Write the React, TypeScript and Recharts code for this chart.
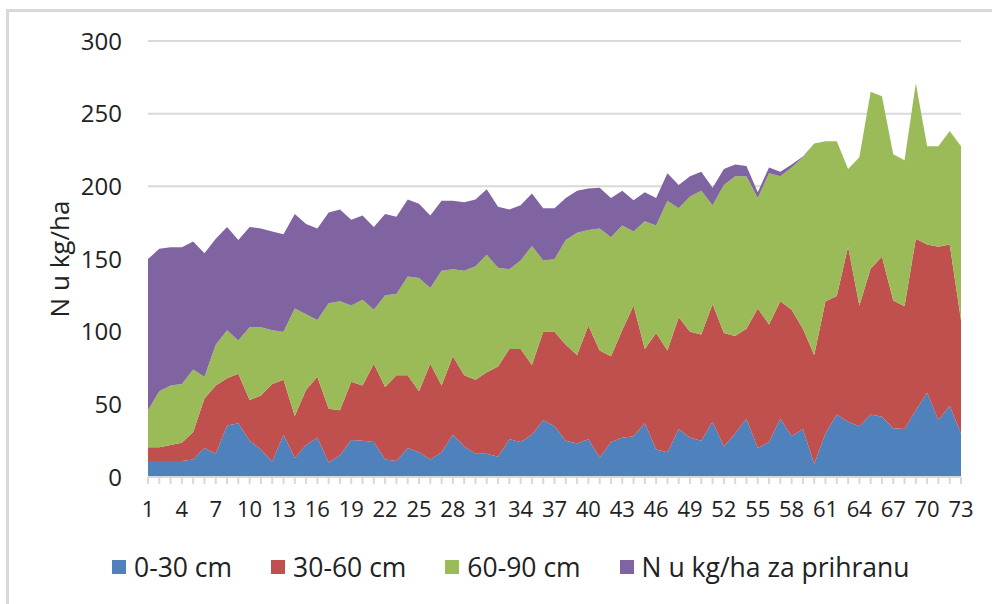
import React from 'react';
import { AreaChart, Area, XAxis, YAxis, CartesianGrid, Legend } from 'recharts';

const FONT = "'Open Sans', 'Liberation Sans', sans-serif";
const TEXT = '#222222';
const GRID = '#d9d9d9';

// Sample numbers 1..73 along the horizontal axis
const categories: string[] = Array.from({ length: 73 }, (_, i) => String(i + 1));

// Mineral N (kg/ha) by soil layer, and N still needed for top-dressing
const layer0to30 = [
  11, 11, 11, 11, 12, 20, 16, 35.5, 37, 25,
  19, 10.5, 29, 13, 22, 27, 10, 15, 25.5, 25,
  24, 12, 11, 20, 17, 12, 17, 29, 21, 16,
  16, 14, 26, 24, 29, 39, 35, 25, 23, 26,
  13.5, 24, 27, 28, 37, 19, 17, 33, 27, 25,
  38, 21, 30, 40, 20, 24, 40, 28, 33, 9,
  30, 43, 38, 35, 43, 41.5, 33.5, 33, 46, 58,
  39, 49, 30,
];
const layer30to60 = [
  9.4, 9.4, 11, 12.6, 19, 34, 47, 32.5, 34, 28,
  37, 53.5, 38, 29, 38, 42, 37, 31, 40, 38,
  54, 50, 59, 50, 42, 66, 46, 54, 49, 51,
  56, 62, 62, 64, 48, 61, 65, 66, 61, 78,
  73.5, 59, 74, 90, 51, 80, 70, 77, 73, 73,
  81, 78, 67, 62, 96, 81, 81, 87, 69, 75,
  91, 81.5, 120.5, 83, 100.5, 110, 88, 84.5, 118, 102,
  119.5, 111, 78,
];
const layer60to90 = [
  25.6, 38.6, 41, 40.4, 43, 15, 28, 33, 23, 50,
  47, 37, 33, 74, 52, 39, 72.5, 75, 52.5, 59,
  37, 63, 56, 68, 78, 52, 79, 60, 72, 78,
  81, 68, 55, 61, 82, 49, 50, 72, 84, 66,
  84, 82, 72, 51, 88, 74, 103, 75, 93, 99,
  68, 102, 110, 105, 76, 104, 86, 98, 118, 145.5,
  110, 106.5, 53.5, 102, 121.5, 110.5, 100.5, 100.5, 107, 67.5,
  69, 78, 119.5,
];
const topDressing = [
  104, 98, 95, 94, 88, 85, 73, 71, 69, 69,
  68, 68, 67, 65, 62, 63, 62.5, 63, 59, 58,
  57, 56, 53, 53, 51, 50, 48, 47, 47, 46,
  45, 42, 41, 38, 36, 36, 35, 29, 29, 28.5,
  28, 27, 24, 21.5, 20, 19, 19, 16, 14, 13,
  12, 11, 8, 7, 4, 4, 3, 2, 0.5, 0,
  0, 0, 0, 0, 0, 0, 0, 0, 0, 0,
  0, 0, 0,
];

const seriesKeys = ['l0', 'l1', 'l2', 'l3'];
const seriesNames = ['0-30 cm', '30-60 cm', '60-90 cm', 'N u kg/ha za prihranu'];
const seriesColors = ['#4F81BD', '#C0504D', '#9BBB59', '#8064A2'];
const yTicks = [0, 50, 100, 150, 200, 250, 300];
const yTitle = 'N u kg/ha';

const data = categories.map((c, i) => ({
  cat: c,
  l0: layer0to30[i],
  l1: layer30to60[i],
  l2: layer60to90[i],
  l3: topDressing[i],
}));

// Tick marks at every sample, numbers on every third one
const XTick = (props: any) => {
  const { x, y, payload } = props;
  const n = Number(payload.value);
  if ((n - 1) % 3 !== 0) return <g />;
  return (
    <text x={x} y={y + 31} textAnchor="middle" fontSize={22} fontFamily={FONT} fill={TEXT}>
      {payload.value}
    </text>
  );
};

const YTitle = (props: any) => {
  const { viewBox } = props;
  const cx = 59;
  const cy = viewBox.y + viewBox.height / 2;
  return (
    <text
      x={cx}
      y={cy}
      textAnchor="middle"
      dominantBaseline="central"
      transform={`rotate(-90 ${cx} ${cy})`}
      fontSize={26}
      fontFamily={FONT}
      fill={TEXT}
    >
      {yTitle}
    </text>
  );
};

const LegendContent = () => (
  <div
    style={{
      display: 'flex',
      alignItems: 'center',
      fontFamily: FONT,
      fontSize: 26.5,
      lineHeight: '30px',
      color: TEXT,
      whiteSpace: 'nowrap',
    }}
  >
    {seriesNames.map((name, i) => (
      <div key={name} style={{ display: 'flex', alignItems: 'center', marginRight: 39 }}>
        <span
          style={{
            display: 'inline-block',
            width: 14,
            height: 14,
            background: seriesColors[i],
            marginRight: 8,
          }}
        />
        <span>{name}</span>
      </div>
    ))}
  </div>
);

export default function App() {
  return (
    <div
      style={{
        position: 'absolute',
        left: 0,
        top: 0,
        width: 992,
        height: 604,
        overflow: 'hidden',
        background: '#fff',
      }}
    >
      <div
        style={{
          position: 'absolute',
          left: 6,
          top: 9,
          width: 1000,
          height: 700,
          borderLeft: `3px solid ${GRID}`,
          borderTop: `3px solid ${GRID}`,
        }}
      />
      <div style={{ position: 'absolute', left: 0, top: 0 }}>
        <AreaChart
          width={992}
          height={604}
          data={data}
          margin={{ top: 41, right: 31, bottom: 67, left: 0 }}
        >
          <CartesianGrid vertical={false} stroke={GRID} strokeWidth={2} />
          <XAxis
            dataKey="cat"
            interval={0}
            tickSize={7}
            tickMargin={2}
            height={60}
            axisLine={{ stroke: GRID, strokeWidth: 2 }}
            tickLine={{ stroke: GRID, strokeWidth: 2 }}
            tick={<XTick />}
          />
          <YAxis
            domain={[0, 300]}
            ticks={yTicks}
            width={148}
            axisLine={false}
            tickLine={false}
            tickSize={0}
            tickMargin={26}
            tick={{ fontSize: 24, fontFamily: FONT, fill: TEXT }}
            label={<YTitle />}
          />
          {seriesKeys.map((k, i) => (
            <Area
              key={k}
              type="linear"
              dataKey={k}
              name={seriesNames[i]}
              stackId="n"
              fill={seriesColors[i]}
              fillOpacity={1}
              stroke="none"
              dot={false}
              activeDot={false}
              isAnimationActive={false}
            />
          ))}
          <Legend
            layout="vertical"
            align="center"
            verticalAlign="middle"
            content={<LegendContent />}
            wrapperStyle={{ left: 112, top: 552, width: 860 }}
          />
        </AreaChart>
      </div>
    </div>
  );
}
